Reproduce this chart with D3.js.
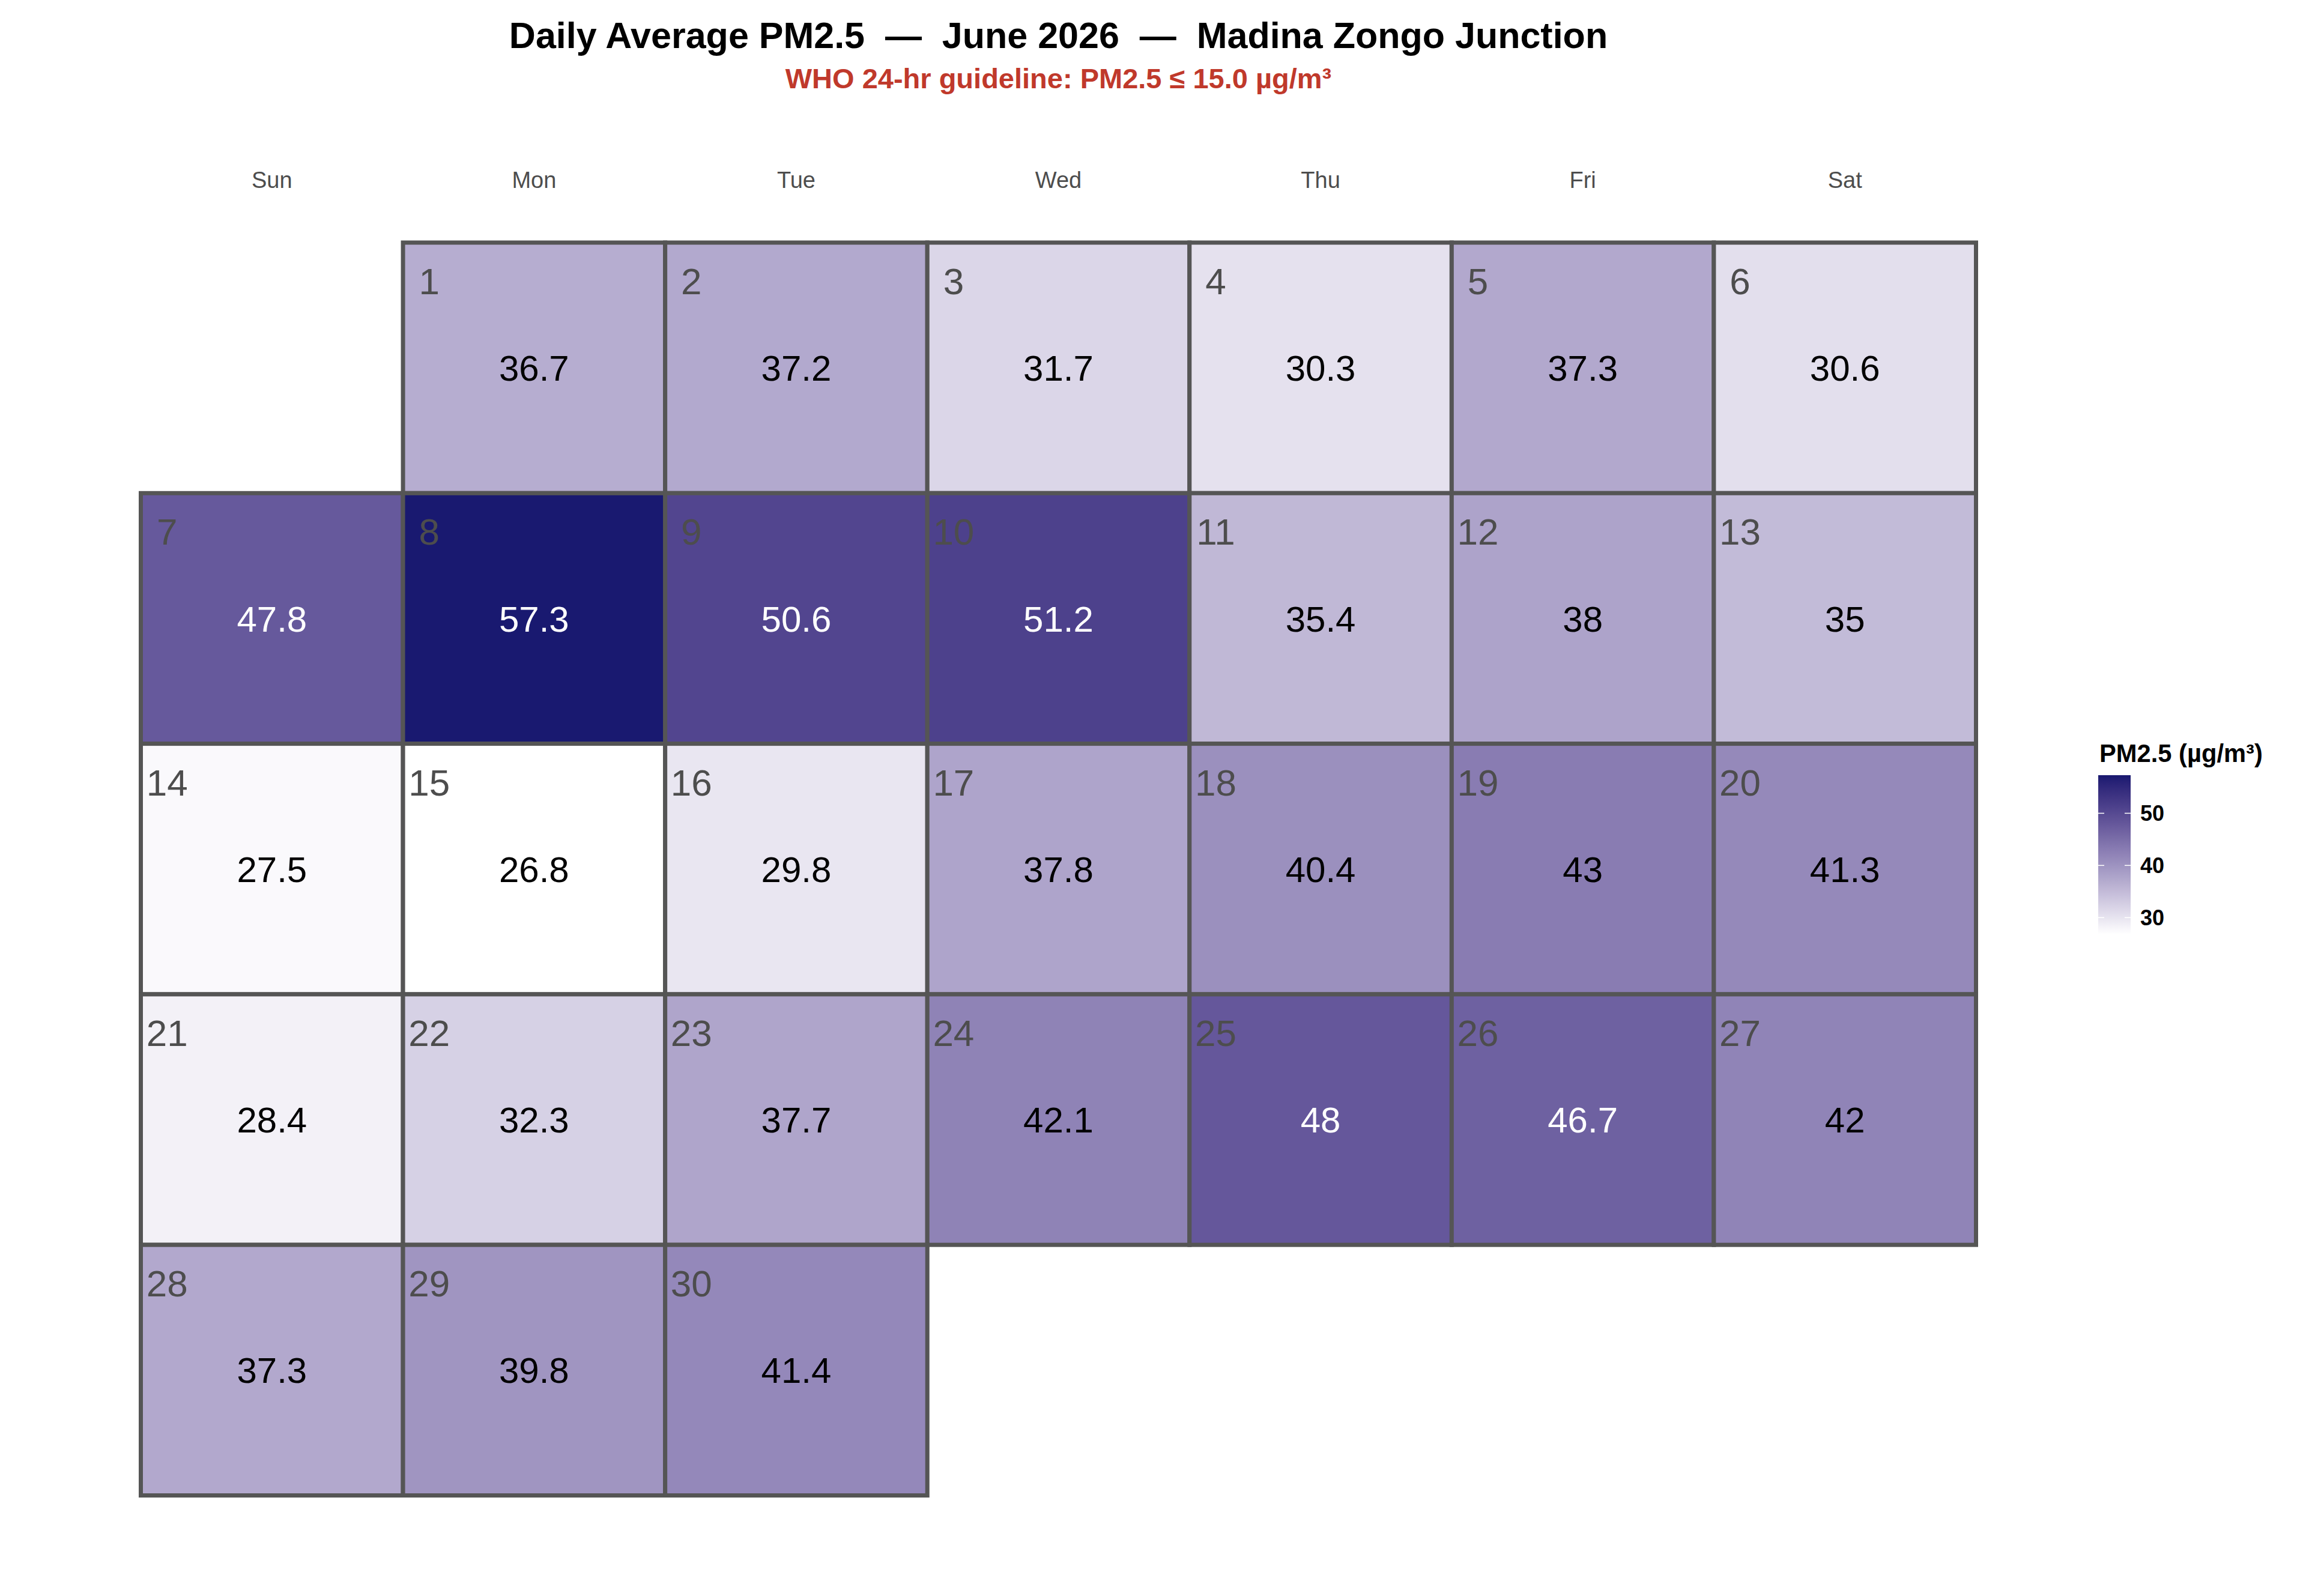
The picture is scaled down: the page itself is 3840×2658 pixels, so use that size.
<!DOCTYPE html>
<html>
<head>
<meta charset="utf-8">
<script src="https://cdn.jsdelivr.net/npm/d3@7"></script>
<style>
  body { margin: 0; background: #fff; }
  text { font-family: "Liberation Sans", Arial, sans-serif; }
</style>
</head>
<body>
<div id="chart"></div>
<script>
const weekdays = ["Sun", "Mon", "Tue", "Wed", "Thu", "Fri", "Sat"];
const days = d3.range(1, 31);
const pm25 = [36.7, 37.2, 31.7, 30.3, 37.3, 30.6, 47.8, 57.3, 50.6, 51.2,
  35.4, 38, 35, 27.5, 26.8, 29.8, 37.8, 40.4, 43, 41.3,
  28.4, 32.3, 37.7, 42.1, 48, 46.7, 42, 37.3, 39.8, 41.4];
const legendTicks = [30, 40, 50];
const firstWeekday = 1; // June 1 2026 is a Monday

const width = 3840,
  height = 2658,
  margin = ({ top: 404, right: 549.5, bottom: 167.5, left: 234.5 });

const cells = days.map((d, i) => ({
  day: d,
  value: pm25[i],
  wd: weekdays[(firstWeekday + i) % 7],
  week: Math.floor((firstWeekday + i) / 7) + 1
}));

const x = d3.scaleBand()
  .domain(weekdays)
  .range([margin.left, width - margin.right]);

const y = d3.scaleBand()
  .domain(d3.range(1, 6))
  .range([margin.top, height - margin.bottom]);

const color = d3.scaleSequential(d3.interpolateLab("white", "midnightblue"))
  .domain(d3.extent(pm25));

const svg = d3.select("#chart")
  .append("svg")
  .attr("width", width)
  .attr("height", height)
  .attr("viewBox", [0, 0, width, height]);

svg.append("rect").attr("width", width).attr("height", height).attr("fill", "#fff");

const cx = (margin.left + width - margin.right) / 2;
const sp = "\u00A0\u00A0";

svg.append("text")
  .text(`Daily Average PM2.5${sp}—${sp}June 2026${sp}—${sp}Madina Zongo Junction`)
  .attr("x", cx).attr("y", 80)
  .attr("text-anchor", "middle")
  .attr("font-size", 61).attr("font-weight", "bold")
  .attr("fill", "#000");

svg.append("text")
  .text("WHO 24-hr guideline: PM2.5 ≤ 15.0 µg/m³")
  .attr("x", cx).attr("y", 147)
  .attr("text-anchor", "middle")
  .attr("font-size", 47).attr("font-weight", "bold")
  .attr("fill", "#C0392B");

// weekday header
svg.append("g")
  .selectAll("text")
  .data(weekdays)
  .join("text")
  .text(d => d)
  .attr("x", d => x(d) + x.bandwidth() / 2)
  .attr("y", 313)
  .attr("text-anchor", "middle")
  .attr("font-size", 38)
  .attr("fill", "#4D4D4D");

const g = svg.append("g")
  .selectAll("g")
  .data(cells)
  .join("g");

g.append("rect")
  .attr("x", d => x(d.wd))
  .attr("y", d => y(d.week))
  .attr("width", x.bandwidth())
  .attr("height", y.bandwidth())
  .attr("fill", d => color(d.value))
  .attr("stroke", "#555555")
  .attr("stroke-width", 7);

g.append("text")
  .text(d => d.day)
  .attr("x", d => x(d.wd) + x.bandwidth() * 0.1)
  .attr("y", d => y(d.week) + 86)
  .attr("text-anchor", "middle")
  .attr("font-size", 62)
  .attr("fill", "#4D4D4D");

g.append("text")
  .text(d => String(d.value))
  .attr("x", d => x(d.wd) + x.bandwidth() / 2)
  .attr("y", d => y(d.week) + y.bandwidth() / 2)
  .attr("dy", "0.36em")
  .attr("text-anchor", "middle")
  .attr("font-size", 60)
  .attr("fill", d => d.value > 45 ? "#fff" : "#000");

// colour bar legend
const lg = svg.append("g");
const barX = 3494, barW = 54;
const ly = d3.scaleLinear()
  .domain(d3.extent(pm25))
  .range([1556, 1291]);

const grad = svg.append("defs").append("linearGradient")
  .attr("id", "pmgrad")
  .attr("x1", 0).attr("y1", 1).attr("x2", 0).attr("y2", 0);
grad.selectAll("stop")
  .data(d3.range(0, 1.0001, 0.05))
  .join("stop")
  .attr("offset", t => t)
  .attr("stop-color", t => color(ly.domain()[0] + t * (ly.domain()[1] - ly.domain()[0])));

lg.append("text")
  .text("PM2.5 (µg/m³)")
  .attr("x", 3496).attr("y", 1269)
  .attr("font-size", 41.7).attr("font-weight", "bold")
  .attr("fill", "#000");

lg.append("rect")
  .attr("x", barX).attr("y", ly.range()[1])
  .attr("width", barW).attr("height", ly.range()[0] - ly.range()[1])
  .attr("fill", "url(#pmgrad)");

const tk = lg.selectAll("g.tick")
  .data(legendTicks)
  .join("g")
  .attr("class", "tick");

tk.append("line")
  .attr("x1", barX).attr("x2", barX + 10)
  .attr("y1", d => ly(d)).attr("y2", d => ly(d))
  .attr("stroke", "#fff").attr("stroke-width", 1.5);
tk.append("line")
  .attr("x1", barX + barW - 10).attr("x2", barX + barW)
  .attr("y1", d => ly(d)).attr("y2", d => ly(d))
  .attr("stroke", "#fff").attr("stroke-width", 1.5);
tk.append("text")
  .text(d => d)
  .attr("x", 3564)
  .attr("y", d => ly(d))
  .attr("dy", "0.36em")
  .attr("font-size", 36).attr("font-weight", "bold")
  .attr("fill", "#000");
</script>
</body>
</html>
